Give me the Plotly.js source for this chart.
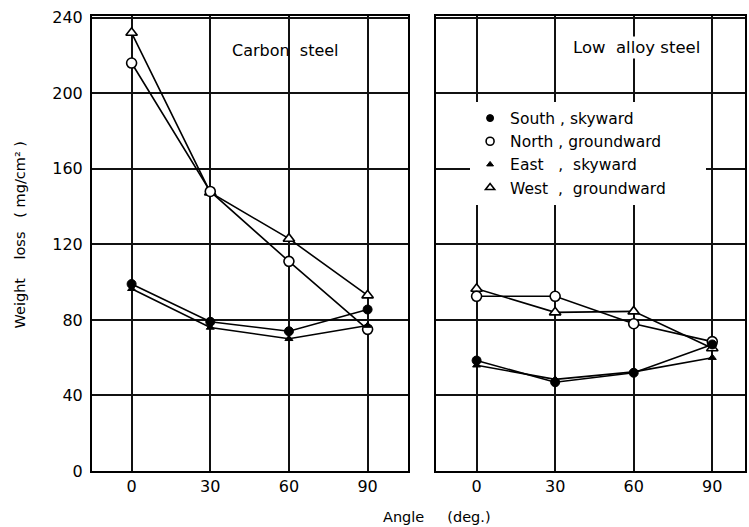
<!DOCTYPE html>
<html>
<head>
<meta charset="utf-8">
<script src="https://cdn.plot.ly/plotly-3.0.1.min.js"></script>
<style>html,body{margin:0;padding:0;background:#fff;}#chart{width:749px;height:527px;}</style>
</head>
<body>
<div id="chart"></div>
<script>
// Angles (deg.)
const angles = [0, 30, 60, 90];
const xTickLabels = ['0', '30', '60', '90'];
const yTickVals = [0, 40, 80, 120, 160, 200, 240];

// Carbon steel – weight loss (mg/cm²)
const carbonSouthSky = [99, 79, 74, 85.5];
const carbonNorthGround = [216, 148, 111, 75];
const carbonEastSky = [96.5, 76, 70, 77];
const carbonWestGround = [232, 147.5, 123, 93];

// Low alloy steel – weight loss (mg/cm²)
const alloySouthSky = [58.5, 47, 52, 67];
const alloyNorthGround = [92.5, 92.5, 78, 68.5];
const alloyEastSky = [56, 48.5, 52.5, 60];
const alloyWestGround = [96.5, 84, 84.5, 65];

const NB = '\u00a0';
const seriesNames = [
  'South' + NB + ',' + NB + 'skyward',
  'North' + NB + ',' + NB + 'groundward',
  'East' + NB + NB + NB + ',' + NB + NB + 'skyward',
  'West' + NB + NB + ',' + NB + NB + 'groundward' + NB.repeat(7)
];

const FONT = 'DejaVu Sans, Liberation Sans, sans-serif';
const markerStyles = [
  {symbol: 'circle', size: 9, color: '#000', line: {color: '#000', width: 1}},
  {symbol: 'circle', size: 10, color: '#fff', line: {color: '#000', width: 1.6}},
  {symbol: 'triangle-up', size: 7, color: '#000', line: {color: '#000', width: 1}},
  {symbol: 'triangle-up', size: 10, color: '#fff', line: {color: '#000', width: 1.6}}
];
const legendMarkerSizes = [7, 8, 6, 8];

const carbon = [carbonSouthSky, carbonNorthGround, carbonEastSky, carbonWestGround];
const alloy = [alloySouthSky, alloyNorthGround, alloyEastSky, alloyWestGround];

const traces = [];
const order = [3, 1, 2, 0];
order.forEach(i => {
  traces.push({x: angles, y: carbon[i], xaxis: 'x', yaxis: 'y', mode: 'lines+markers',
    line: {color: '#000', width: 1.6}, marker: markerStyles[i], showlegend: false, hoverinfo: 'skip'});
  traces.push({x: angles, y: alloy[i], xaxis: 'x2', yaxis: 'y2', mode: 'lines+markers',
    line: {color: '#000', width: 1.6}, marker: markerStyles[i], showlegend: false, hoverinfo: 'skip'});
});
seriesNames.forEach((n, i) => {
  traces.push({x: [null], y: [null], xaxis: 'x2', yaxis: 'y2', mode: 'markers', name: n,
    legendgroup: 'g' + i, marker: Object.assign({}, markerStyles[i], {size: legendMarkerSizes[i]}),
    showlegend: true});
});

const axisCommon = {
  showline: true, mirror: true, linecolor: '#000', linewidth: 2,
  showgrid: true, gridcolor: '#111', gridwidth: 2, zeroline: false,
  ticks: '', tickfont: {family: FONT, size: 16, color: '#000'}, fixedrange: true
};

const layout = {
  width: 749, height: 527,
  margin: {l: 92, r: 4, t: 16, b: 56},
  paper_bgcolor: '#fff', plot_bgcolor: '#fff',
  font: {family: FONT, color: '#000'},
  xaxis: Object.assign({}, axisCommon, {domain: [0, 0.4839], range: [-15.1, 105.4],
    tickvals: angles, ticktext: xTickLabels, anchor: 'y'}),
  yaxis: Object.assign({}, axisCommon, {range: [0, 240.9], tickvals: yTickVals, anchor: 'x',
    ticklabelstandoff: 4}),
  xaxis2: Object.assign({}, axisCommon, {domain: [0.5268, 1], range: [-15.5, 102.5],
    tickvals: angles, ticktext: xTickLabels, anchor: 'y2'}),
  yaxis2: Object.assign({}, axisCommon, {range: [0, 240.9], tickvals: yTickVals, anchor: 'x2',
    showticklabels: false}),
  showlegend: true,
  legend: {x: 0.579, y: 0.812, xanchor: 'left', yanchor: 'top', bgcolor: '#ffffff',
    borderwidth: 0, font: {family: FONT, size: 15.5, color: '#000'},
    traceorder: 'grouped', tracegroupgap: 0, itemclick: false, itemdoubleclick: false},
  annotations: [
    {text: 'Carbon' + NB + NB + 'steel', xref: 'paper', yref: 'paper', x: 0.2956, y: 0.925,
      xanchor: 'center', yanchor: 'middle', showarrow: false,
      font: {family: FONT, size: 16, color: '#000'}},
    {text: 'Low' + NB + NB + 'alloy' + NB + 'steel', xref: 'paper', yref: 'paper', x: 0.834, y: 0.93,
      xanchor: 'center', yanchor: 'middle', showarrow: false, bgcolor: '#fff',
      font: {family: FONT, size: 16.5, color: '#000'}},
    {text: 'Angle' + NB + NB + NB + NB + NB + '(deg.)', xref: 'paper', yref: 'paper', x: 0.529, y: -0.101,
      xanchor: 'center', yanchor: 'middle', showarrow: false,
      font: {family: FONT, size: 14.5, color: '#000'}},
    {text: 'Weight' + NB + NB + NB + NB + 'loss' + NB + NB + NB + '(' + NB + 'mg/cm²' + NB + ')',
      xref: 'paper', yref: 'paper', x: -0.110, y: 0.518, textangle: -90,
      xanchor: 'center', yanchor: 'middle', showarrow: false,
      font: {family: FONT, size: 14.5, color: '#000'}}
  ]
};

Plotly.newPlot('chart', traces, layout, {staticPlot: true, displayModeBar: false});
</script>
</body>
</html>
